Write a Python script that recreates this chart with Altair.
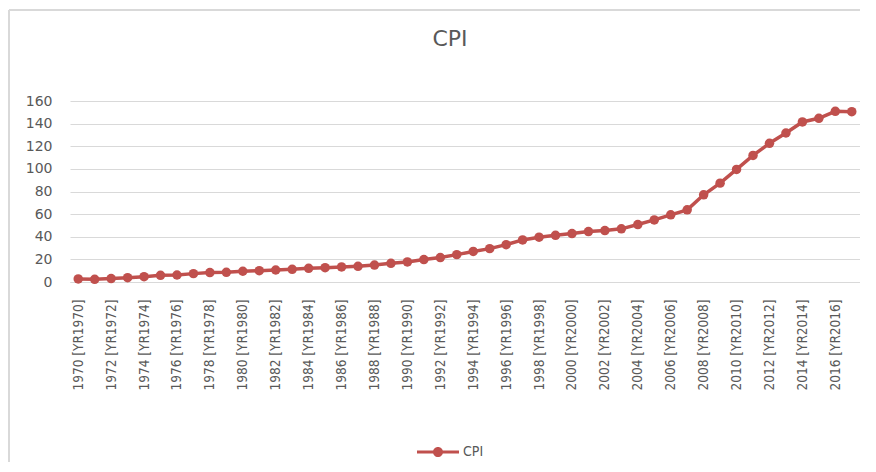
import altair as alt
import pandas as pd

years = list(range(1970, 2018))
cpi = [2.7, 2.4, 3.0, 3.8, 4.7, 5.9, 6.2, 7.4, 8.3, 8.6,
       9.5, 10.0, 10.6, 11.2, 12.1, 12.7, 13.3, 13.9, 15.0, 16.5,
       17.7, 19.8, 21.6, 24.2, 27.0, 29.5, 33.0, 37.2, 39.6, 41.3,
       42.8, 44.6, 45.5, 47.0, 50.8, 54.9, 59.4, 63.8, 77.1, 87.4,
       99.5, 111.9, 122.6, 131.7, 141.5, 144.7, 150.9, 150.6]
labels = [f"{y} [YR{y}]" for y in years]
shown_labels = labels[::2]
y_ticks = [0, 20, 40, 60, 80, 100, 120, 140, 160]

df = pd.DataFrame({"label": labels, "CPI": cpi, "series": ["CPI"] * len(cpi)})

RED = "#c0504d"
GRID = "#d9d9d9"
TXT = "#595959"

x_enc = alt.X(
    "label:O", sort=None, title=None,
    axis=alt.Axis(values=shown_labels, labelAngle=270, labelPadding=17,
                  labelFont="DejaVu Sans Condensed", labelFontSize=13.5,
                  labelColor=TXT, ticks=False, domain=True, domainColor=GRID,
                  grid=False, labelLimit=0),
)
y_enc = alt.Y(
    "CPI:Q", title=None,
    scale=alt.Scale(domain=[0, 160], nice=False),
    axis=alt.Axis(values=y_ticks, labelPadding=18, labelFont="DejaVu Sans",
                  labelFontSize=14, labelColor=TXT, ticks=False, domain=False,
                  grid=True, gridColor=GRID, gridWidth=1),
)

line = alt.Chart(df).mark_line(color=RED, strokeWidth=3.5).encode(x=x_enc, y=y_enc)

symbol_path = ("M-1,-0.07L1,-0.07L1,0.07L-1,0.07Z "
               "M0.24,0A0.24,0.24,0,1,1,-0.24,0A0.24,0.24,0,1,1,0.24,0Z")

points = alt.Chart(df).mark_point(filled=True, size=90, opacity=1).encode(
    x=x_enc, y=y_enc,
    color=alt.Color("series:N", scale=alt.Scale(range=[RED]),
                    legend=alt.Legend(title=None, orient="none", legendX=347, legendY=330,
                                      symbolType=symbol_path, symbolSize=1764,
                                      symbolStrokeWidth=0, symbolFillColor=RED,
                                      labelFont="DejaVu Sans Condensed", labelFontSize=14,
                                      labelColor=TXT, labelOffset=4, padding=0)),
)

frame_src = alt.Data(values=[{"k": 1}])
top_border = alt.Chart(frame_src).mark_rule(color=GRID, strokeWidth=2).encode(
    x=alt.value(-61), x2=alt.value(900), y=alt.value(-91))
left_border = alt.Chart(frame_src).mark_rule(color=GRID, strokeWidth=2).encode(
    x=alt.value(-61), y=alt.value(-91), y2=alt.value(470))

chart = alt.layer(top_border, left_border, line, points).properties(
    width=790, height=181,
    autosize=alt.AutoSizeParams(type="none"),
    padding={"left": 62, "top": 93, "right": 0, "bottom": 180},
    background="white",
    title=alt.Title("CPI", font="DejaVu Sans", fontSize=22, fontWeight="normal",
                    color=TXT, anchor="middle", dx=-15, offset=0, dy=59,
                    baseline="alphabetic"),
).configure_view(stroke=None)

chart.save("out.html", embed_options={"renderer": "svg", "actions": False})
